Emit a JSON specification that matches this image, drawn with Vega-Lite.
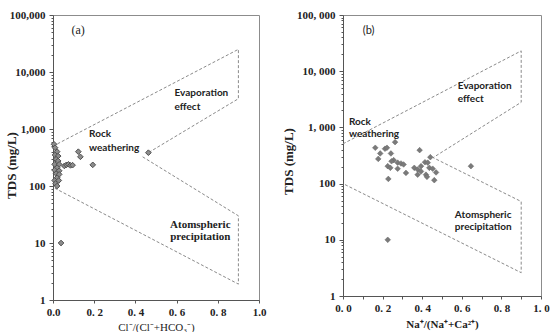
{
  "$schema": "https://vega.github.io/schema/vega-lite/v6.json",
  "background": "white",
  "padding": {"left": 4, "top": 8, "right": 4, "bottom": 4},
  "spacing": 14,
  "config": {
    "view": {"stroke": "#8c8c8c", "strokeWidth": 1},
    "axis": {"domainColor": "#555", "tickColor": "#555", "grid": false, "labelFont": "Liberation Serif", "labelFontWeight": "bold", "labelFontSize": 11, "labelColor": "#222", "titleColor": "#222", "labelOverlap": false, "labelFlush": false}
  },
  "datasets": {
    "pa": [
      {"x": 0.005, "y": 540}, {"x": 0.01, "y": 470}, {"x": 0.02, "y": 400}, {"x": 0.01, "y": 350}, {"x": 0.025, "y": 335},
      {"x": 0.015, "y": 295}, {"x": 0.025, "y": 275}, {"x": 0.008, "y": 240}, {"x": 0.03, "y": 240}, {"x": 0.02, "y": 210},
      {"x": 0.008, "y": 190}, {"x": 0.03, "y": 185}, {"x": 0.015, "y": 165}, {"x": 0.03, "y": 160}, {"x": 0.02, "y": 140},
      {"x": 0.008, "y": 125}, {"x": 0.028, "y": 125}, {"x": 0.012, "y": 110}, {"x": 0.02, "y": 100},
      {"x": 0.055, "y": 225}, {"x": 0.065, "y": 235}, {"x": 0.075, "y": 240}, {"x": 0.085, "y": 230}, {"x": 0.095, "y": 232},
      {"x": 0.123, "y": 400}, {"x": 0.133, "y": 325}, {"x": 0.193, "y": 235}, {"x": 0.463, "y": 384}, {"x": 0.039, "y": 10}
    ],
    "pb": [
      {"x": 0.163, "y": 434}, {"x": 0.188, "y": 344}, {"x": 0.178, "y": 275}, {"x": 0.212, "y": 417}, {"x": 0.222, "y": 434},
      {"x": 0.263, "y": 547}, {"x": 0.242, "y": 344}, {"x": 0.256, "y": 261}, {"x": 0.245, "y": 250}, {"x": 0.226, "y": 204},
      {"x": 0.239, "y": 191}, {"x": 0.229, "y": 121}, {"x": 0.276, "y": 236}, {"x": 0.293, "y": 228}, {"x": 0.276, "y": 184},
      {"x": 0.306, "y": 219}, {"x": 0.318, "y": 155}, {"x": 0.387, "y": 394}, {"x": 0.36, "y": 191}, {"x": 0.377, "y": 178},
      {"x": 0.394, "y": 204}, {"x": 0.377, "y": 144}, {"x": 0.394, "y": 165}, {"x": 0.414, "y": 240}, {"x": 0.428, "y": 236},
      {"x": 0.441, "y": 295}, {"x": 0.436, "y": 191}, {"x": 0.419, "y": 144}, {"x": 0.424, "y": 132}, {"x": 0.461, "y": 115},
      {"x": 0.47, "y": 158}, {"x": 0.453, "y": 184}, {"x": 0.646, "y": 204}, {"x": 0.226, "y": 10}
    ],
    "la": [
      {"seg": 1, "o": 1, "x": 0, "y": 500}, {"seg": 1, "o": 2, "x": 0.9, "y": 25000}, {"seg": 1, "o": 3, "x": 0.9, "y": 3400}, {"seg": 1, "o": 4, "x": 0.463, "y": 384},
      {"seg": 2, "o": 1, "x": 0.435, "y": 325}, {"seg": 2, "o": 2, "x": 0.9, "y": 30}, {"seg": 2, "o": 3, "x": 0.9, "y": 1.9}, {"seg": 2, "o": 4, "x": 0, "y": 95}
    ],
    "lb": [
      {"seg": 1, "o": 1, "x": 0, "y": 510}, {"seg": 1, "o": 2, "x": 0.9, "y": 23000}, {"seg": 1, "o": 3, "x": 0.9, "y": 2800}, {"seg": 1, "o": 4, "x": 0.455, "y": 290},
      {"seg": 1, "o": 5, "x": 0.9, "y": 48}, {"seg": 1, "o": 6, "x": 0.9, "y": 2.6}, {"seg": 1, "o": 7, "x": 0, "y": 100}
    ],
    "tagA": [{"x": 0.09, "y": 55000, "t": "(a)"}],
    "ta": [
      {"x": 0.59, "y": 4300, "t": "Evaporation"},
      {"x": 0.59, "y": 2400, "t": "effect"},
      {"x": 0.175, "y": 820, "t": "Rock"},
      {"x": 0.175, "y": 465, "t": "weathering"}
    ],
    "tac": [
      {"x": 0.715, "y": 21, "t": "Atomspheric"},
      {"x": 0.715, "y": 12.5, "t": "precipitation"}
    ],
    "tagB": [{"x": 0.1, "y": 52000, "t": "(b)"}],
    "tb": [
      {"x": 0.58, "y": 5400, "t": "Evaporation"},
      {"x": 0.58, "y": 3200, "t": "effect"},
      {"x": 0.03, "y": 1230, "t": "Rock"},
      {"x": 0.03, "y": 760, "t": "weathering"},
      {"x": 0.565, "y": 28, "t": "Atomspheric"},
      {"x": 0.565, "y": 17, "t": "precipitation"}
    ]
  },
  "hconcat": [
    {
      "width": 206,
      "height": 285,
      "layer": [
        {
          "data": {"name": "la"},
          "mark": {"type": "line", "strokeDash": [3, 2], "color": "#8a8a8a", "strokeWidth": 1},
          "encoding": {
            "x": {"field": "x", "type": "quantitative", "scale": {"domain": [0, 1]},
              "axis": {"values": [0, 0.1, 0.2, 0.3, 0.4, 0.5, 0.6, 0.7, 0.8, 0.9, 1.0], "labelOverlap": false, "labelFlush": false, "labelExpr": "indexof([0,0.2,0.4,0.6,0.8,1], datum.value) >= 0 ? (datum.value == 0 ? '0.0' : datum.value == 1 ? '1.0' : replace(format(datum.value, '.1f'), '.', '. ')) : ''", "tickSize": 3, "labelPadding": 3,
                "title": "Cl⁻/(Cl⁻+HCO₃⁻)", "titleFont": "Liberation Serif", "titleFontWeight": "normal", "titleFontSize": 11, "titlePadding": 4}},
            "y": {"field": "y", "type": "quantitative", "scale": {"type": "log", "domain": [1, 100000]},
              "axis": {"values": [1,2,3,4,5,6,7,8,9,10,20,30,40,50,60,70,80,90,100,200,300,400,500,600,700,800,900,1000,2000,3000,4000,5000,6000,7000,8000,9000,10000,20000,30000,40000,50000,60000,70000,80000,90000,100000],
                "labelOverlap": false,
                "labelExpr": "indexof([1,10,100,1000,10000,100000], datum.value) >= 0 ? format(datum.value, ',') : ''",
                "tickSize": {"condition": {"test": "indexof([1,10,100,1000,10000,100000], datum.value) >= 0", "value": 4}, "value": 2},
                "labelPadding": 4,
                "title": "TDS  (mg/L)", "titleFont": "Liberation Serif", "titleFontWeight": "bold", "titleFontSize": 13, "titleX": -35, "titleY": 150}},
            "detail": {"field": "seg"},
            "order": {"field": "o"}
          }
        },
        {
          "data": {"name": "pa"},
          "mark": {"type": "point", "shape": "diamond", "filled": true, "fill": "#8c8c8c", "stroke": "#505050", "strokeWidth": 1, "size": 32, "opacity": 1},
          "encoding": {"x": {"field": "x", "type": "quantitative"}, "y": {"field": "y", "type": "quantitative"}}
        },
        {
          "data": {"name": "tagA"},
          "mark": {"type": "text", "align": "left", "baseline": "middle", "fontSize": 12, "font": "Liberation Serif", "color": "#222"},
          "encoding": {"x": {"field": "x", "type": "quantitative"}, "y": {"field": "y", "type": "quantitative"}, "text": {"field": "t"}}
        },
        {
          "data": {"name": "ta"},
          "mark": {"type": "text", "align": "left", "baseline": "middle", "fontSize": 10, "font": "Lato", "fontWeight": "bold", "color": "#222"},
          "encoding": {"x": {"field": "x", "type": "quantitative"}, "y": {"field": "y", "type": "quantitative"}, "text": {"field": "t"}}
        },
        {
          "data": {"name": "tac"},
          "mark": {"type": "text", "align": "center", "baseline": "middle", "fontSize": 11, "font": "Liberation Serif", "fontWeight": "bold", "color": "#222"},
          "encoding": {"x": {"field": "x", "type": "quantitative"}, "y": {"field": "y", "type": "quantitative"}, "text": {"field": "t"}}
        }
      ]
    },
    {
      "width": 198,
      "height": 281,
      "resolve": {"axis": {"x": "independent"}},
      "layer": [
        {
          "data": {"name": "lb"},
          "mark": {"type": "line", "strokeDash": [3, 2], "color": "#8a8a8a", "strokeWidth": 1},
          "encoding": {
            "x": {"field": "x", "type": "quantitative", "scale": {"domain": [0, 1]},
              "axis": {"values": [0, 0.2, 0.4, 0.6, 0.8, 1.0], "labelOverlap": false, "labelFlush": false,
                "labelExpr": "replace(format(datum.value, '.1f'), '.', '. ')", "tickSize": 3, "labelPadding": 3,
                "title": "Na⁺/(Na⁺+Ca²⁺)", "titleFont": "Liberation Serif", "titleFontWeight": "bold", "titleFontSize": 11, "titlePadding": 5}},
            "y": {"field": "y", "type": "quantitative", "scale": {"type": "log", "domain": [1, 100000]},
              "axis": {"values": [1,2,3,4,5,6,7,8,9,10,20,30,40,50,60,70,80,90,100,200,300,400,500,600,700,800,900,1000,2000,3000,4000,5000,6000,7000,8000,9000,10000,20000,30000,40000,50000,60000,70000,80000,90000,100000],
                "labelOverlap": false,
                "labelExpr": "indexof([1,10,100,1000,10000,100000], datum.value) >= 0 ? replace(format(datum.value, ','), ',', ', ') : ''",
                "tickSize": {"condition": {"test": "indexof([1,10,100,1000,10000,100000], datum.value) >= 0", "value": 4}, "value": 2},
                "labelPadding": 4,
                "title": "TDS  (mg/L)", "titleFont": "Liberation Serif", "titleFontWeight": "bold", "titleFontSize": 13, "titleX": -48, "titleY": 146}},
            "detail": {"field": "seg"},
            "order": {"field": "o"}
          }
        },
        {
          "data": {"name": "pb"},
          "mark": {"type": "point", "shape": "diamond", "filled": true, "fill": "#7a7a7a", "stroke": "#666", "strokeWidth": 0.5, "size": 32, "opacity": 1},
          "encoding": {"x": {"field": "x", "type": "quantitative", "axis": {"orient": "bottom", "values": [0.1, 0.3, 0.5, 0.7, 0.9], "labels": false, "domain": false, "tickSize": 3, "title": null}}, "y": {"field": "y", "type": "quantitative"}}
        },
        {
          "data": {"name": "tagB"},
          "mark": {"type": "text", "align": "left", "baseline": "middle", "fontSize": 11, "font": "Lato", "color": "#222"},
          "encoding": {"x": {"field": "x", "type": "quantitative", "axis": null}, "y": {"field": "y", "type": "quantitative"}, "text": {"field": "t"}}
        },
        {
          "data": {"name": "tb"},
          "mark": {"type": "text", "align": "left", "baseline": "middle", "fontSize": 10, "font": "Lato", "fontWeight": "bold", "color": "#222"},
          "encoding": {"x": {"field": "x", "type": "quantitative", "axis": null}, "y": {"field": "y", "type": "quantitative"}, "text": {"field": "t"}}
        }
      ]
    }
  ]
}
